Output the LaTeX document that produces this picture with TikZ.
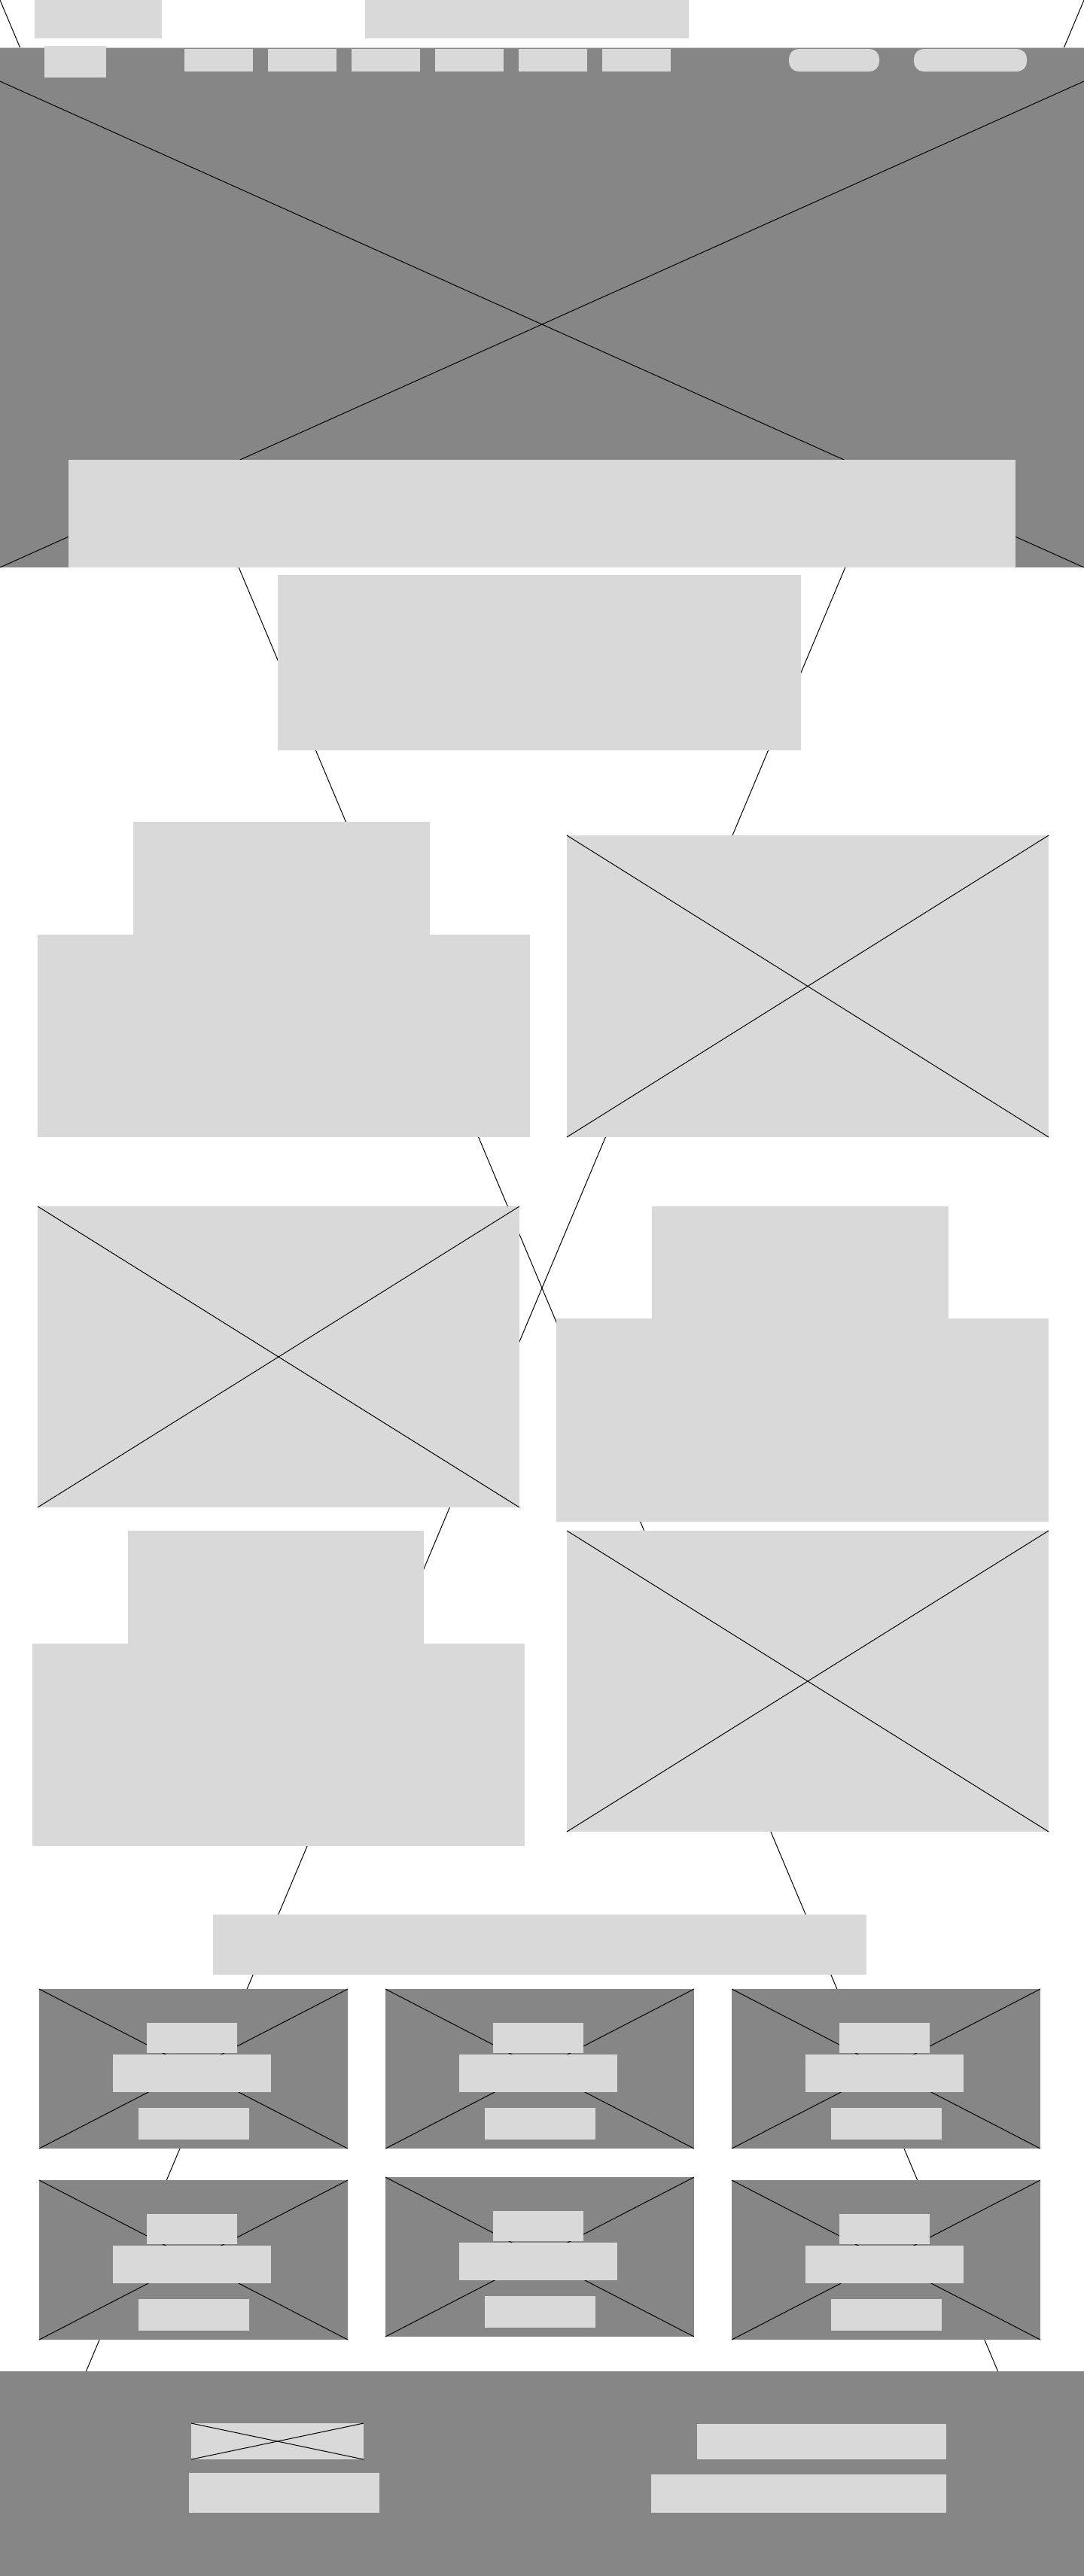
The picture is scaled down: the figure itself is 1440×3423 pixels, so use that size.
\documentclass[tikz,border=0pt]{standalone}
\definecolor{wireDark}{HTML}{868686}
\definecolor{wireLight}{HTML}{D9D9D9}
\definecolor{wireEdge}{HTML}{C4C4C4}

\begin{document}
\begin{tikzpicture}[
    x=0.5pt, y=-0.5pt,
    light/.style 2 args={rectangle, anchor=north west, inner sep=0pt, outer sep=0pt, minimum width=#1*0.5pt, minimum height=#2*0.5pt, fill=wireLight},
    dark/.style 2 args={light={#1}{#2}, fill=wireDark},
    pill/.style 2 args={light={#1}{#2}, rounded corners=6.5pt},
    cross/.style={black, line width=0.5pt}
]
\useasboundingbox (0,0) rectangle (1440,3423);

% page placeholder
\node[light={1440}{3423}, fill=none] (page) at (0,0) {};
\draw[cross] (page.north west) -- (page.south east);
\draw[cross] (page.north east) -- (page.south west);

% top strip
\node[light={169}{51}] (topleft) at (46,0) {};
\node[light={430}{51}] (topmid) at (485,0) {};

% header + hero
\node[dark={1440}{45}] (header) at (0,63) {};
\draw[wireEdge, line width=0.5pt] (header.north west) -- (header.north east);
\node[dark={1440}{646}] (hero) at (0,108) {};
\draw[cross] (hero.north west) -- (hero.south east);
\draw[cross] (hero.north east) -- (hero.south west);
\node[light={82}{42}] (logo) at (59,61) {};
\foreach \i in {0,...,5}
    \node[light={91}{30}] (nav\i) at (245+111*\i,65) {};
\node[pill={120}{30}] (login) at (1048,65) {};
\node[pill={150}{30}] (signup) at (1214,65) {};
\node[light={1258}{143}] (caption) at (91,611) {};

% intro
\node[light={695}{233}] (intro) at (369,764) {};

% feature rows
\node[light={394}{150}] (textA) at (177,1092) {};
\node[light={654}{269}] (bodyA) at (50,1242) {};
\node[light={640}{401}] (imgA) at (753,1110) {};
\draw[cross] (imgA.north west) -- (imgA.south east);
\draw[cross] (imgA.north east) -- (imgA.south west);

\node[light={640}{400}] (imgB) at (50,1603) {};
\draw[cross] (imgB.north west) -- (imgB.south east);
\draw[cross] (imgB.north east) -- (imgB.south west);
\node[light={394}{149}] (textB) at (866,1603) {};
\node[light={654}{270}] (bodyB) at (739,1752) {};

\node[light={393}{150}] (textC) at (170,2034) {};
\node[light={654}{269}] (bodyC) at (43,2184) {};
\node[light={640}{400}] (imgC) at (753,2034) {};
\draw[cross] (imgC.north west) -- (imgC.south east);
\draw[cross] (imgC.north east) -- (imgC.south west);

% gallery
\node[light={868}{80}] (bar) at (283,2544) {};
\foreach \cx/\cy/\n in {52/2643/1, 512/2643/2, 972/2643/3, 52/2897/4, 512/2893/5, 972/2897/6} {
    \node[dark={410}{212}] (card\n) at (\cx,\cy) {};
    \draw[cross] (card\n.north west) -- (card\n.south east);
    \draw[cross] (card\n.north east) -- (card\n.south west);
    \node[light={120}{40}] (cardtag\n) at (\cx+143,\cy+45) {};
    \node[light={210}{50}] (cardtitle\n) at (\cx+98,\cy+87) {};
    \node[light={147}{42}] (cardbtn\n) at (\cx+132,\cy+158) {};
}

% footer
\node[dark={1440}{272}] (footer) at (0,3151) {};
\node[light={229}{48}] (footlogo) at (254,3220) {};
\draw[cross] (footlogo.north west) -- (footlogo.south east);
\draw[cross] (footlogo.north east) -- (footlogo.south west);
\node[light={253}{53}] (footnote) at (251,3286) {};
\node[light={331}{47}] (footlinks) at (926,3221) {};
\node[light={392}{51}] (footcopy) at (865,3288) {};
\end{tikzpicture}
\end{document}
